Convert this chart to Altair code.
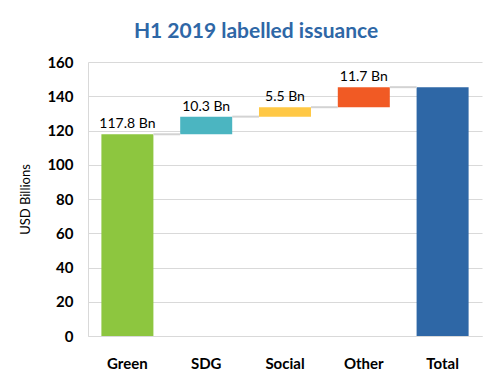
import altair as alt
import pandas as pd

categories = ["Green", "SDG", "Social", "Other", "Total"]
values = [117.8, 10.3, 5.5, 11.7, 145.3]
labels = ["117.8 Bn", "10.3 Bn", "5.5 Bn", "11.7 Bn", ""]
colors = ["#8DC63F", "#4BB5C1", "#FFC845", "#F15A24", "#2E67A6"]
yticks = [0, 20, 40, 60, 80, 100, 120, 140, 160]

starts, ends = [], []
cum = 0.0
for c, v in zip(categories, values):
    if c == "Total":
        starts.append(0.0)
        ends.append(v)
    else:
        starts.append(cum)
        cum += v
        ends.append(cum)

df = pd.DataFrame({"cat": categories, "start": starts, "end": ends, "label": labels})
conn = pd.DataFrame({"cat": categories[:-1], "next": categories[1:], "level": ends[:-1]})

FONT = "Lato"
xscale = alt.Scale(domain=categories, paddingInner=0.34, paddingOuter=0.17)
yscale = alt.Scale(domain=[0, 160])

xaxis = alt.Axis(title=None, labelAngle=0, labelFontWeight="bold", labelFontSize=15,
                 labelPadding=20, ticks=False, domainColor="#D9D9D9", labelColor="#000000",
                 labelFont=FONT, labelAlign="center", bandPosition=0.5)
yaxis = alt.Axis(title="USD Billions", values=yticks, labelFontWeight="bold",
                 labelFontSize=15, labelPadding=15, ticks=False, domainColor="#D9D9D9",
                 gridColor="#D9D9D9", labelColor="#000000", titleFontWeight="normal",
                 titleFontSize=13, titleFont=FONT, labelFont=FONT, titlePadding=14,
                 titleColor="#000000", labelOverlap=False)

bars = alt.Chart(df).mark_bar().encode(
    x=alt.X("cat:N", scale=xscale, sort=categories, axis=xaxis),
    y=alt.Y("start:Q", scale=yscale, axis=yaxis),
    y2="end:Q",
    color=alt.Color("cat:N", scale=alt.Scale(domain=categories, range=colors), legend=None),
)

text = alt.Chart(df).mark_text(baseline="bottom", dy=-3, fontSize=14, font=FONT, color="#000000").encode(
    x=alt.X("cat:N", scale=xscale, sort=categories, axis=xaxis),
    y=alt.Y("end:Q", scale=yscale, axis=yaxis),
    text="label:N",
)

rules = alt.Chart(conn).mark_rule(color="#D3D3D3", strokeWidth=2).encode(
    x=alt.X("cat:N", scale=xscale, sort=categories, bandPosition=1, axis=xaxis),
    x2=alt.X2("next:N", bandPosition=0),
    y=alt.Y("level:Q", scale=yscale, axis=yaxis),
)

chart = alt.layer(bars, rules, text).properties(
    width=394, height=274,
    title=alt.TitleParams("H1 2019 labelled issuance", fontSize=21, fontWeight="bold",
                          color="#2E67A6", font=FONT, anchor="middle", dx=-29, offset=13),
    autosize=alt.AutoSizeParams(type="none"),
    padding={"left": 80, "top": 54, "right": 7, "bottom": 40},
).configure_view(stroke=None)

chart.save("out.html", embed_options={"renderer": "svg", "actions": False})
